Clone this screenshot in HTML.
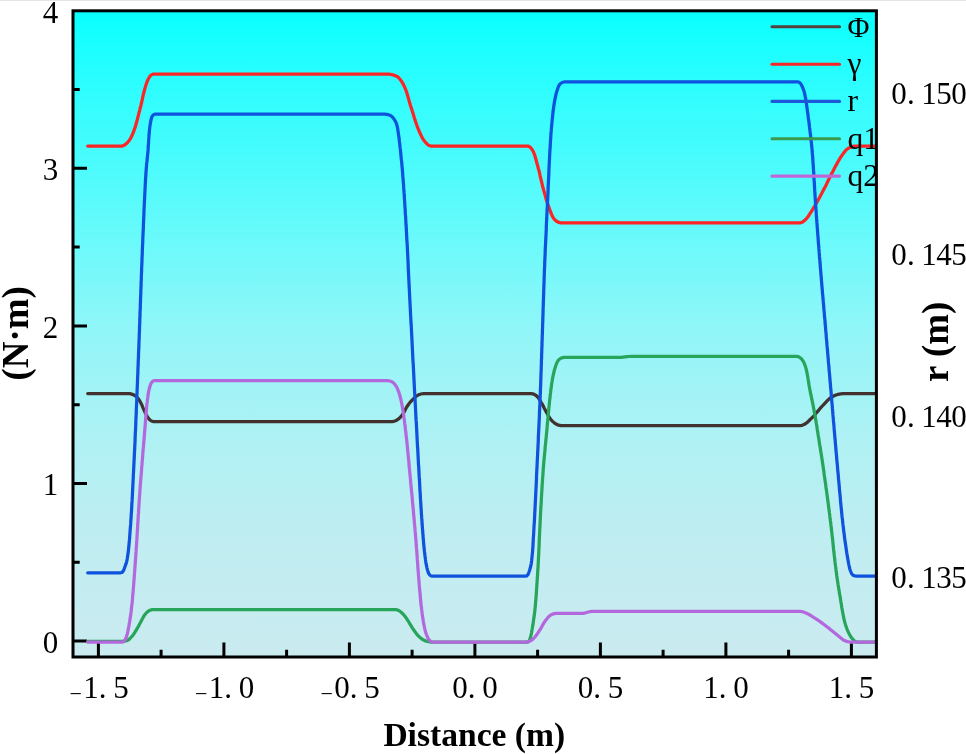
<!DOCTYPE html>
<html lang="en"><head><meta charset="utf-8"><title>Chart</title>
<style>
html,body{margin:0;padding:0;background:#fff;}
body{width:966px;height:754px;overflow:hidden;}
svg{display:block;}
.tk{font-family:"Liberation Serif","Noto Serif CJK SC",serif;font-size:31px;fill:#000;}
.lg{font-family:"Liberation Serif",serif;font-size:31.5px;fill:#000;}
.ti{font-family:"Liberation Serif",serif;font-weight:bold;font-size:33.6px;fill:#000;}
.tv{font-family:"Liberation Serif",serif;font-weight:bold;font-size:36.9px;fill:#000;}
</style></head><body>
<svg width="966" height="754" viewBox="0 0 966 754">
<defs><linearGradient id="bg" x1="0" y1="0" x2="0" y2="1"><stop offset="0.0000" stop-color="#08ffff"/><stop offset="0.0761" stop-color="#21feff"/><stop offset="0.1318" stop-color="#31fdfe"/><stop offset="0.1845" stop-color="#3efcfd"/><stop offset="0.2618" stop-color="#52fbfc"/><stop offset="0.3392" stop-color="#66fafb"/><stop offset="0.4940" stop-color="#91f6f8"/><stop offset="0.6642" stop-color="#aff1f4"/><stop offset="0.8189" stop-color="#c0edf1"/><stop offset="1.0000" stop-color="#caebf0"/></linearGradient><clipPath id="cp"><rect x="73.0" y="10.8" width="803.4" height="646.2"/></clipPath></defs>
<rect x="0" y="0" width="966" height="754" fill="#fff"/>
<rect x="0" y="0" width="966" height="1" fill="#e4e4e4"/>
<rect x="73.0" y="10.8" width="803.4" height="646.2" fill="url(#bg)"/>
<path d="M73.0 641.0H87.0M73.0 483.4H87.0M73.0 325.9H87.0M73.0 168.3H87.0M73.0 562.2H79.7M73.0 404.7H79.7M73.0 247.1H79.7M73.0 89.6H79.7M98.4 657.0V642.5M223.9 657.0V642.5M349.4 657.0V642.5M474.9 657.0V642.5M600.4 657.0V642.5M725.9 657.0V642.5M851.4 657.0V642.5M161.1 657.0V649.7M286.6 657.0V649.7M412.1 657.0V649.7M537.6 657.0V649.7M663.1 657.0V649.7M788.6 657.0V649.7" stroke="#000" stroke-width="3" fill="none"/>
<g clip-path="url(#cp)" fill="none" stroke-width="3.25" stroke-linecap="round" stroke-linejoin="round">
<path d="M87.7 393.6L89.8 393.6L91.8 393.6L93.9 393.6L96.0 393.6L98.0 393.6L100.1 393.6L102.2 393.6L104.3 393.6L106.3 393.6L108.4 393.6L110.5 393.6L112.5 393.6L114.6 393.6L116.7 393.6L118.7 393.6L120.8 393.6L122.9 393.6L124.9 393.6L127.0 393.6L128.4 393.6L129.8 393.7L132.4 394.3L134.8 395.5L136.7 397.0L138.4 398.9L139.8 401.0L140.9 403.0L141.9 405.1L142.8 407.4L143.8 409.6L144.8 411.7L145.9 413.9L147.0 416.1L148.3 418.2L149.8 419.8L151.5 421.0L153.5 421.6L154.7 421.6L156.0 421.6L273.0 421.6L390.0 421.6L391.2 421.6L392.4 421.6L395.0 421.0L397.4 419.8L399.2 418.4L400.9 416.7L402.4 414.8L403.5 413.1L404.5 411.4L405.4 409.5L406.3 407.7L407.4 406.0L408.8 404.0L410.3 402.1L411.9 400.3L413.6 398.6L415.2 397.1L416.8 395.8L418.6 394.8L421.0 394.0L423.6 393.6L424.8 393.6L426.0 393.6L428.0 393.6L430.0 393.6L432.1 393.6L434.1 393.6L436.1 393.6L438.1 393.6L440.1 393.6L442.2 393.6L444.2 393.6L446.2 393.6L448.2 393.6L450.2 393.6L452.3 393.6L454.3 393.6L456.3 393.6L458.3 393.6L460.3 393.6L462.4 393.6L464.4 393.6L466.4 393.6L468.4 393.6L470.4 393.6L472.5 393.6L474.5 393.6L476.5 393.6L478.5 393.6L480.5 393.6L482.5 393.6L484.6 393.6L486.6 393.6L488.6 393.6L490.6 393.6L492.6 393.6L494.7 393.6L496.7 393.6L498.7 393.6L500.7 393.6L502.7 393.6L504.8 393.6L506.8 393.6L508.8 393.6L510.8 393.6L512.8 393.6L514.9 393.6L516.9 393.6L518.9 393.6L520.9 393.6L522.9 393.6L525.0 393.6L527.0 393.6L529.0 393.6L530.1 393.6L531.2 393.6L533.8 394.2L536.1 395.5L537.5 396.8L538.8 398.5L540.0 400.4L541.1 402.3L542.2 404.1L543.2 406.0L544.1 407.9L545.1 409.8L546.1 411.7L547.3 413.8L548.4 415.9L549.7 417.9L551.1 419.8L552.6 421.4L554.3 422.9L556.1 424.1L558.5 425.2L561.0 425.7L562.5 425.7L564.0 425.7L680.5 425.7L797.0 425.7L798.5 425.7L800.0 425.7L802.1 425.3L804.0 424.5L805.8 423.5L807.6 422.1L809.2 420.5L810.8 418.9L812.4 417.3L813.9 415.8L815.3 414.2L816.7 412.5L818.1 410.9L819.4 409.2L820.8 407.6L822.3 406.0L823.9 404.3L825.5 402.6L827.1 400.9L828.7 399.3L830.5 397.9L832.3 396.7L834.1 395.8L836.0 395.0L838.0 394.4L840.7 393.9L843.5 393.6L844.7 393.6L846.0 393.6L848.1 393.6L850.1 393.6L852.2 393.6L854.3 393.6L856.4 393.6L858.4 393.6L860.5 393.6L862.6 393.6L864.6 393.6L866.7 393.6L868.8 393.6L870.9 393.6L872.9 393.6L875.0 393.6" stroke="#41312f"/>
<path d="M87.7 146.0L89.7 146.0L91.7 146.0L93.8 146.0L95.8 146.0L97.8 146.0L99.8 146.0L101.8 146.0L103.8 146.0L105.9 146.0L107.9 146.0L109.9 146.0L111.9 146.0L113.9 146.0L116.0 146.0L118.0 146.0L120.0 146.0L121.2 146.0L122.4 146.0L124.6 145.1L126.5 143.5L127.9 142.1L129.2 140.4L130.4 138.6L131.4 136.7L132.3 134.8L133.1 133.0L133.8 131.2L134.4 129.3L135.1 127.4L135.7 125.5L136.2 123.5L136.8 121.6L137.3 119.6L137.8 117.6L138.3 115.7L138.8 113.7L139.3 111.7L139.8 109.8L140.3 107.7L140.9 105.6L141.3 103.6L141.8 101.5L142.3 99.4L142.7 97.3L143.2 95.2L143.7 93.1L144.2 91.0L144.8 89.0L145.4 86.9L146.0 84.9L146.7 82.8L147.5 80.7L148.4 78.8L149.5 77.0L151.0 75.1L152.9 74.1L153.9 74.1L155.0 74.1L271.6 74.1L388.0 74.1L389.0 74.2L390.0 74.3L392.3 74.7L394.6 75.4L396.6 76.2L398.3 77.4L399.8 79.0L401.3 80.9L402.5 82.9L403.6 84.9L404.5 86.8L405.3 88.7L406.1 90.7L406.8 92.7L407.4 94.8L408.0 96.9L408.6 99.0L409.2 101.1L409.8 103.2L410.4 105.3L411.1 107.4L411.8 109.4L412.4 111.5L413.1 113.6L413.7 115.6L414.3 117.7L415.0 119.7L415.6 121.8L416.3 123.8L417.0 125.8L417.8 127.8L418.6 129.8L419.4 131.8L420.3 133.7L421.2 135.7L422.1 137.6L423.2 139.4L424.4 141.0L425.7 142.6L427.3 144.2L429.0 145.5L430.8 146.0L431.9 146.0L433.0 146.0L435.0 146.0L437.0 146.0L439.1 146.0L441.1 146.0L443.1 146.0L445.1 146.0L447.2 146.0L449.2 146.0L451.2 146.0L453.2 146.0L455.2 146.0L457.3 146.0L459.3 146.0L461.3 146.0L463.3 146.0L465.3 146.0L467.4 146.0L469.4 146.0L471.4 146.0L473.4 146.0L475.5 146.0L477.5 146.0L479.5 146.0L481.5 146.0L483.5 146.0L485.6 146.0L487.6 146.0L489.6 146.0L491.6 146.0L493.7 146.0L495.7 146.0L497.7 146.0L499.7 146.0L501.7 146.0L503.8 146.0L505.8 146.0L507.8 146.0L509.8 146.0L511.8 146.0L513.9 146.0L515.9 146.0L517.9 146.0L519.9 146.0L522.0 146.0L524.0 146.0L526.0 146.0L527.0 146.0L528.0 146.0L530.5 147.4L532.4 150.0L533.4 151.8L534.2 153.8L535.0 156.0L535.6 158.2L536.2 160.5L536.8 162.7L537.4 164.9L538.0 167.0L538.5 169.0L539.1 171.1L539.6 173.2L540.0 175.3L540.5 177.4L541.0 179.5L541.5 181.6L542.0 183.7L542.5 185.8L543.0 187.8L543.6 189.9L544.2 191.9L544.7 193.9L545.3 195.9L545.9 198.0L546.4 200.0L547.1 202.0L547.7 203.9L548.4 205.9L549.1 207.9L549.8 209.8L550.6 211.9L551.5 214.2L552.4 216.3L553.5 218.3L554.8 219.8L556.5 221.2L558.7 222.4L561.0 222.9L562.0 222.9L563.0 222.9L680.5 222.9L798.0 222.9L799.0 222.9L800.0 222.9L802.7 221.9L805.0 220.0L806.4 218.6L807.8 217.0L809.0 215.3L810.1 213.4L811.3 211.6L812.4 209.8L813.5 208.0L814.6 206.3L815.6 204.5L816.7 202.7L817.7 200.8L818.7 199.0L819.7 197.2L820.7 195.3L821.7 193.5L822.6 191.6L823.6 189.8L824.5 188.0L825.5 186.2L826.4 184.4L827.2 182.6L828.1 180.7L829.0 178.9L829.9 177.1L830.8 175.3L831.7 173.5L832.7 171.7L833.6 169.9L834.6 168.0L835.6 166.1L836.7 164.1L837.7 162.2L838.8 160.3L839.9 158.5L841.1 156.7L842.3 154.9L843.6 153.1L844.9 151.4L846.4 149.7L848.0 148.5L850.1 147.4L852.3 146.4L854.7 146.0L855.8 146.0L857.0 146.0L859.0 146.0L861.0 146.0L863.0 146.0L865.0 146.0L867.0 146.0L869.0 146.0L871.0 146.0L873.0 146.0L875.0 146.0" stroke="#fc2525"/>
<path d="M87.7 572.8L89.9 572.8L92.0 572.8L94.2 572.8L96.3 572.8L98.4 572.8L100.5 572.8L102.5 572.8L104.6 572.8L106.6 572.8L108.6 572.8L110.6 572.8L112.6 572.8L114.6 572.8L116.6 572.8L118.5 572.8L120.5 572.8L121.6 572.5L122.5 572.0L123.7 570.2L124.5 568.0L125.3 565.8L126.1 563.6L126.7 561.3L127.2 559.0L127.5 557.0L127.8 554.9L128.1 552.9L128.4 550.8L128.6 548.7L128.8 546.7L129.0 544.6L129.2 542.5L129.4 540.4L129.6 538.3L129.7 536.2L129.9 534.1L130.0 532.1L130.2 530.0L130.3 527.9L130.5 525.8L130.7 523.7L130.8 521.7L130.9 519.6L131.1 517.5L131.2 515.4L131.3 513.4L131.5 511.3L131.6 509.2L131.7 507.1L131.8 505.1L131.9 503.0L132.1 500.9L132.2 498.8L132.3 496.8L132.4 494.7L132.5 492.6L132.6 490.6L132.7 488.6L132.8 486.5L132.9 484.5L133.0 482.5L133.1 480.5L133.2 478.5L133.3 476.4L133.4 474.4L133.5 472.4L133.6 470.4L133.7 468.4L133.8 466.4L133.9 464.3L134.0 462.3L134.1 460.3L134.2 458.3L134.3 456.3L134.4 454.2L134.5 452.2L134.6 450.2L134.7 448.2L134.8 446.2L134.9 444.1L135.0 442.1L135.1 440.1L135.1 438.1L135.2 436.1L135.3 434.0L135.4 432.0L135.5 430.0L135.6 428.0L135.7 426.0L135.8 424.0L135.8 422.0L135.9 420.0L136.0 418.0L136.1 416.0L136.2 414.0L136.3 412.0L136.3 410.0L136.4 408.0L136.5 406.0L136.6 404.0L136.7 402.0L136.8 400.0L136.8 398.0L136.9 396.0L137.0 394.0L137.1 392.0L137.1 390.0L137.2 388.0L137.3 386.0L137.4 384.0L137.5 382.0L137.5 380.0L137.6 378.0L137.7 376.0L137.8 374.0L137.9 372.0L137.9 370.0L138.0 368.0L138.1 366.0L138.2 364.0L138.2 362.0L138.3 360.0L138.4 358.0L138.5 356.0L138.5 354.0L138.6 352.0L138.7 350.0L138.8 348.0L138.9 346.0L138.9 343.9L139.0 341.9L139.1 339.9L139.2 337.9L139.2 335.8L139.3 333.8L139.4 331.8L139.5 329.8L139.5 327.7L139.6 325.7L139.7 323.7L139.8 321.7L139.8 319.6L139.9 317.6L140.0 315.6L140.0 313.6L140.1 311.5L140.2 309.5L140.3 307.5L140.3 305.5L140.4 303.4L140.5 301.4L140.5 299.4L140.6 297.4L140.7 295.3L140.8 293.3L140.8 291.3L140.9 289.3L141.0 287.2L141.1 285.2L141.1 283.2L141.2 281.2L141.3 279.2L141.3 277.1L141.4 275.1L141.5 273.1L141.6 271.1L141.6 269.0L141.7 267.0L141.8 265.0L141.9 263.0L142.0 260.9L142.0 258.9L142.1 256.9L142.2 254.9L142.3 252.8L142.3 250.8L142.4 248.8L142.5 246.8L142.6 244.7L142.7 242.7L142.8 240.7L142.8 238.7L142.9 236.6L143.0 234.6L143.1 232.6L143.2 230.6L143.3 228.6L143.4 226.5L143.4 224.5L143.5 222.5L143.6 220.5L143.7 218.5L143.8 216.4L143.9 214.4L143.9 212.4L144.0 210.4L144.1 208.4L144.2 206.3L144.3 204.3L144.4 202.3L144.5 200.3L144.6 198.3L144.7 196.2L144.8 194.2L144.9 192.2L145.0 190.2L145.1 188.2L145.2 186.1L145.3 184.1L145.4 182.1L145.5 180.1L145.6 178.1L145.8 176.1L145.9 174.0L146.0 172.0L146.2 170.0L146.3 168.0L146.5 166.0L146.6 164.0L146.9 162.0L147.1 160.0L147.3 158.0L147.5 156.0L147.7 154.0L147.9 152.0L148.1 149.9L148.2 147.8L148.3 145.7L148.5 143.6L148.6 141.4L148.7 139.3L148.9 137.2L149.0 135.1L149.2 133.0L149.4 130.8L149.6 128.6L149.9 126.4L150.2 124.3L150.6 122.1L151.0 120.0L151.6 117.6L152.6 115.6L153.6 114.7L154.8 114.2L155.9 114.2L157.0 114.2L270.5 114.2L384.0 114.2L385.1 114.2L386.2 114.3L388.4 114.7L390.5 115.5L392.4 117.0L394.0 119.0L395.1 120.8L396.1 122.8L396.8 124.8L397.3 126.8L397.7 128.8L398.0 130.9L398.3 132.9L398.6 135.0L398.9 137.1L399.2 139.2L399.4 141.4L399.7 143.5L399.9 145.6L400.1 147.7L400.4 149.9L400.6 152.0L400.8 154.0L401.0 156.0L401.2 158.0L401.4 160.0L401.7 162.0L401.8 164.0L402.0 166.0L402.2 168.0L402.4 170.0L402.5 172.0L402.7 174.0L402.8 176.1L403.0 178.1L403.2 180.1L403.3 182.1L403.5 184.1L403.6 186.2L403.7 188.2L403.9 190.2L404.0 192.2L404.2 194.2L404.3 196.2L404.4 198.3L404.6 200.3L404.7 202.3L404.8 204.3L404.9 206.3L405.1 208.4L405.2 210.4L405.3 212.4L405.4 214.4L405.6 216.4L405.7 218.5L405.8 220.5L405.9 222.5L406.0 224.5L406.2 226.5L406.3 228.6L406.4 230.6L406.5 232.6L406.6 234.6L406.7 236.6L406.8 238.6L406.9 240.6L407.1 242.7L407.2 244.7L407.3 246.7L407.4 248.7L407.5 250.7L407.6 252.7L407.7 254.7L407.8 256.7L407.9 258.8L408.0 260.8L408.1 262.8L408.2 264.8L408.2 266.8L408.3 268.8L408.4 270.8L408.5 272.8L408.6 274.9L408.7 276.9L408.8 278.9L408.9 280.9L409.0 282.9L409.1 284.9L409.2 286.9L409.3 288.9L409.4 291.0L409.5 293.0L409.6 295.0L409.7 297.0L409.8 299.0L409.9 301.0L410.0 303.0L410.1 305.0L410.2 307.0L410.3 309.0L410.4 311.0L410.5 313.0L410.6 315.0L410.7 317.0L410.8 319.0L410.9 321.0L411.0 323.0L411.2 325.0L411.3 327.0L411.4 329.0L411.5 331.0L411.6 333.0L411.7 335.0L411.8 337.0L411.9 339.0L412.0 341.0L412.1 343.0L412.2 345.0L412.3 347.0L412.4 349.1L412.5 351.1L412.6 353.2L412.7 355.2L412.8 357.3L412.9 359.3L413.0 361.3L413.2 363.4L413.3 365.4L413.4 367.5L413.5 369.5L413.6 371.6L413.7 373.6L413.8 375.7L413.9 377.7L414.0 379.7L414.1 381.8L414.2 383.8L414.3 385.9L414.4 387.9L414.5 390.0L414.6 392.0L414.8 394.0L414.9 396.1L415.0 398.1L415.1 400.2L415.2 402.2L415.3 404.3L415.4 406.3L415.5 408.3L415.6 410.3L415.7 412.3L415.8 414.3L415.9 416.3L416.0 418.4L416.1 420.4L416.3 422.4L416.4 424.4L416.5 426.4L416.6 428.4L416.7 430.4L416.8 432.4L416.9 434.4L417.0 436.4L417.1 438.4L417.2 440.5L417.3 442.5L417.4 444.5L417.5 446.5L417.7 448.5L417.8 450.5L417.9 452.5L418.0 454.5L418.1 456.5L418.2 458.5L418.3 460.5L418.4 462.6L418.5 464.6L418.7 466.6L418.8 468.6L418.9 470.6L419.0 472.6L419.1 474.7L419.2 476.7L419.4 478.8L419.5 480.8L419.6 482.9L419.7 485.0L419.8 487.0L419.9 489.1L420.0 491.1L420.2 493.2L420.3 495.2L420.4 497.3L420.5 499.4L420.7 501.4L420.8 503.5L420.9 505.5L421.0 507.6L421.2 509.7L421.3 511.7L421.4 513.8L421.6 515.8L421.7 517.9L421.9 519.9L422.0 522.0L422.1 524.0L422.3 526.0L422.4 528.0L422.6 530.0L422.7 532.0L422.9 534.0L423.0 536.0L423.2 538.0L423.4 540.0L423.5 542.0L423.7 544.0L423.9 546.0L424.1 548.0L424.3 550.0L424.5 552.0L424.8 554.0L425.0 556.0L425.3 558.0L425.5 560.0L425.8 562.1L426.2 564.1L426.6 566.1L427.0 568.1L427.5 570.0L428.3 572.6L429.5 574.8L430.7 575.7L432.3 576.2L433.4 576.2L434.5 576.2L436.5 576.2L438.5 576.2L440.5 576.2L442.5 576.2L444.5 576.2L446.5 576.2L448.5 576.2L450.5 576.2L452.5 576.2L454.5 576.2L456.5 576.2L458.5 576.2L460.5 576.2L462.5 576.2L464.5 576.2L466.5 576.2L468.5 576.2L470.5 576.2L472.5 576.2L474.5 576.2L476.5 576.2L478.5 576.2L480.5 576.2L482.5 576.2L484.5 576.2L486.5 576.2L488.5 576.2L490.5 576.2L492.5 576.2L494.5 576.2L496.5 576.2L498.5 576.2L500.5 576.2L502.5 576.2L504.5 576.2L506.5 576.2L508.5 576.2L510.5 576.2L512.5 576.2L514.5 576.2L516.5 576.2L518.5 576.2L520.5 576.2L522.5 576.2L524.5 576.2L525.7 576.1L526.7 576.0L528.1 574.4L529.0 572.0L529.7 569.9L530.3 567.7L530.9 565.5L531.3 563.2L531.6 561.0L531.8 559.0L532.0 557.0L532.2 555.1L532.4 553.1L532.6 551.1L532.7 549.1L532.9 547.1L533.0 545.1L533.1 543.1L533.2 541.0L533.3 539.0L533.4 537.0L533.6 535.0L533.7 533.0L533.8 531.0L533.9 529.0L534.0 527.0L534.1 525.0L534.3 523.0L534.4 521.0L534.5 518.9L534.6 516.9L534.7 514.9L534.8 512.9L534.9 510.9L535.0 508.9L535.1 506.9L535.2 504.9L535.3 502.9L535.4 500.8L535.5 498.8L535.6 496.8L535.7 494.8L535.8 492.8L535.9 490.8L536.0 488.8L536.1 486.8L536.2 484.7L536.3 482.7L536.4 480.7L536.5 478.7L536.5 476.7L536.6 474.7L536.7 472.7L536.8 470.6L536.9 468.6L537.0 466.6L537.1 464.6L537.2 462.6L537.3 460.6L537.4 458.6L537.5 456.5L537.6 454.5L537.7 452.5L537.8 450.5L537.9 448.5L538.0 446.5L538.1 444.4L538.2 442.4L538.3 440.4L538.3 438.4L538.4 436.4L538.5 434.3L538.6 432.3L538.7 430.3L538.8 428.3L538.9 426.3L539.0 424.3L539.1 422.2L539.2 420.2L539.3 418.2L539.4 416.2L539.4 414.2L539.5 412.1L539.6 410.1L539.7 408.1L539.8 406.1L539.9 404.1L540.0 402.1L540.0 400.0L540.1 398.0L540.2 396.0L540.3 394.0L540.4 391.9L540.4 389.9L540.5 387.9L540.6 385.8L540.7 383.8L540.7 381.8L540.8 379.7L540.9 377.7L540.9 375.7L541.0 373.6L541.1 371.6L541.2 369.6L541.2 367.5L541.3 365.5L541.4 363.5L541.4 361.4L541.5 359.4L541.6 357.4L541.6 355.3L541.7 353.3L541.8 351.3L541.8 349.2L541.9 347.2L542.0 345.2L542.0 343.1L542.1 341.1L542.2 339.1L542.2 337.0L542.3 335.0L542.4 333.0L542.4 331.0L542.5 329.0L542.6 327.0L542.6 325.0L542.7 323.0L542.8 321.0L542.8 319.0L542.9 317.0L543.0 315.0L543.0 313.0L543.1 311.0L543.1 309.0L543.2 307.0L543.3 305.0L543.3 303.0L543.4 301.0L543.5 299.0L543.5 297.0L543.6 295.0L543.7 293.0L543.7 291.0L543.8 289.0L543.9 287.0L543.9 285.0L544.0 283.0L544.1 281.0L544.1 279.0L544.2 277.0L544.3 275.0L544.3 273.0L544.4 271.0L544.5 269.0L544.6 267.0L544.7 265.0L544.7 263.0L544.8 260.9L544.9 258.9L545.0 256.9L545.1 254.9L545.2 252.9L545.2 250.9L545.3 248.9L545.4 246.9L545.5 244.9L545.6 242.8L545.7 240.8L545.8 238.8L545.9 236.8L546.0 234.8L546.1 232.8L546.2 230.8L546.3 228.8L546.3 226.7L546.4 224.7L546.5 222.7L546.6 220.7L546.7 218.7L546.8 216.7L546.9 214.7L547.0 212.7L547.1 210.6L547.2 208.6L547.3 206.6L547.4 204.6L547.5 202.6L547.6 200.6L547.7 198.6L547.8 196.6L547.9 194.6L548.0 192.6L548.1 190.5L548.1 188.5L548.2 186.5L548.3 184.5L548.4 182.5L548.5 180.5L548.6 178.5L548.7 176.5L548.8 174.5L548.9 172.5L548.9 170.4L549.0 168.4L549.1 166.4L549.2 164.4L549.3 162.4L549.4 160.4L549.5 158.4L549.6 156.4L549.7 154.4L549.8 152.4L549.9 150.4L550.1 148.3L550.2 146.3L550.3 144.3L550.4 142.3L550.5 140.3L550.7 138.3L550.8 136.3L550.9 134.3L551.1 132.2L551.3 130.2L551.4 128.1L551.6 126.1L551.8 124.1L552.0 122.0L552.2 120.0L552.4 117.9L552.6 115.9L552.8 113.8L553.1 111.8L553.3 109.7L553.6 107.7L553.9 105.6L554.2 103.6L554.5 101.6L554.9 99.6L555.3 97.7L555.7 95.7L556.2 93.7L556.7 91.8L557.3 89.9L558.0 87.7L558.9 85.6L560.0 84.0L562.1 82.5L564.8 81.8L565.9 81.8L567.0 81.8L681.8 81.8L796.5 81.8L797.7 81.9L798.7 82.0L800.6 83.5L802.0 86.0L802.9 88.1L803.7 90.3L804.4 92.6L804.9 94.9L805.3 96.9L805.7 98.9L806.0 100.9L806.3 103.0L806.6 105.0L806.9 107.1L807.2 109.2L807.5 111.3L807.8 113.5L808.1 115.6L808.3 117.7L808.6 119.8L808.9 121.8L809.1 123.8L809.4 125.9L809.6 127.9L809.9 129.9L810.1 131.9L810.4 134.0L810.6 136.0L810.8 138.0L811.0 140.0L811.3 142.0L811.5 144.0L811.7 146.0L811.9 148.0L812.1 150.0L812.2 152.0L812.4 154.0L812.6 156.0L812.7 158.0L812.9 160.1L813.0 162.1L813.1 164.1L813.3 166.1L813.4 168.2L813.5 170.2L813.7 172.2L813.8 174.2L813.9 176.3L814.0 178.3L814.1 180.3L814.3 182.3L814.4 184.4L814.5 186.4L814.6 188.4L814.7 190.4L814.9 192.5L815.0 194.5L815.1 196.5L815.2 198.6L815.4 200.6L815.5 202.6L815.6 204.6L815.8 206.6L815.9 208.6L816.1 210.7L816.2 212.7L816.3 214.7L816.5 216.7L816.6 218.7L816.8 220.7L816.9 222.7L817.1 224.7L817.2 226.8L817.4 228.8L817.5 230.8L817.7 232.8L817.8 234.8L818.0 236.8L818.1 238.8L818.3 240.8L818.4 242.8L818.6 244.9L818.8 246.9L818.9 248.9L819.1 250.9L819.2 252.9L819.4 254.9L819.5 256.9L819.7 258.9L819.9 261.0L820.0 263.0L820.2 265.0L820.3 267.0L820.5 269.0L820.7 271.0L820.8 273.0L821.0 275.0L821.2 277.0L821.3 279.0L821.5 281.0L821.7 283.0L821.8 285.0L822.0 287.0L822.2 289.0L822.3 291.0L822.5 293.0L822.7 295.0L822.9 297.0L823.0 299.0L823.2 301.0L823.4 303.0L823.6 305.0L823.7 307.0L823.9 309.0L824.1 311.0L824.3 313.0L824.4 315.0L824.6 317.0L824.8 319.0L825.0 321.0L825.1 323.0L825.3 325.0L825.5 327.0L825.6 329.1L825.8 331.1L826.0 333.1L826.2 335.2L826.3 337.2L826.5 339.3L826.7 341.3L826.9 343.3L827.0 345.4L827.2 347.4L827.4 349.4L827.6 351.5L827.7 353.5L827.9 355.6L828.1 357.6L828.3 359.6L828.4 361.7L828.6 363.7L828.8 365.7L829.0 367.8L829.1 369.8L829.3 371.9L829.5 373.9L829.7 375.9L829.8 378.0L830.0 380.0L830.2 382.0L830.4 384.1L830.5 386.1L830.7 388.2L830.9 390.2L831.1 392.2L831.2 394.3L831.4 396.3L831.6 398.3L831.7 400.3L831.9 402.3L832.1 404.3L832.3 406.3L832.4 408.4L832.6 410.4L832.8 412.4L832.9 414.4L833.1 416.4L833.3 418.4L833.4 420.4L833.6 422.4L833.8 424.4L834.0 426.4L834.1 428.4L834.3 430.5L834.5 432.5L834.6 434.5L834.8 436.5L835.0 438.5L835.2 440.5L835.3 442.5L835.5 444.5L835.7 446.5L835.8 448.5L836.0 450.5L836.2 452.6L836.4 454.6L836.6 456.6L836.7 458.6L836.9 460.6L837.1 462.6L837.3 464.6L837.5 466.6L837.6 468.6L837.8 470.7L838.0 472.7L838.2 474.7L838.4 476.7L838.5 478.7L838.7 480.7L838.9 482.7L839.1 484.8L839.3 486.8L839.4 488.8L839.6 490.8L839.8 492.8L840.0 494.8L840.2 496.8L840.4 498.9L840.5 500.9L840.7 502.9L840.9 504.9L841.1 506.9L841.3 508.9L841.5 510.9L841.7 512.9L841.9 514.9L842.1 517.0L842.4 519.0L842.6 521.0L842.8 523.0L843.0 525.0L843.3 527.0L843.5 529.0L843.7 531.1L844.0 533.1L844.3 535.2L844.5 537.3L844.8 539.4L845.1 541.4L845.4 543.5L845.7 545.6L846.0 547.6L846.3 549.7L846.6 551.8L846.9 553.8L847.3 555.9L847.6 557.9L848.0 560.0L848.4 562.2L848.8 564.5L849.3 566.7L849.8 568.9L850.5 571.0L851.5 573.5L853.0 575.3L854.8 575.9L857.0 576.2L858.0 576.2L859.0 576.2L861.0 576.2L863.0 576.2L865.0 576.2L867.0 576.2L869.0 576.2L871.0 576.2L873.0 576.2L875.0 576.2" stroke="#0f52dd"/>
<path d="M87.7 641.3L89.8 641.3L91.9 641.3L93.9 641.3L96.0 641.3L98.1 641.3L100.2 641.3L102.3 641.3L104.4 641.3L106.4 641.3L108.5 641.3L110.6 641.3L112.7 641.3L114.8 641.3L116.8 641.3L118.9 641.3L121.0 641.3L122.3 641.3L123.5 641.2L124.8 641.1L126.0 641.0L127.8 640.3L129.4 639.1L130.9 637.5L132.3 636.0L133.7 634.2L135.0 632.2L136.2 630.2L137.4 628.1L138.6 626.0L139.6 624.1L140.6 622.2L141.6 620.3L142.6 618.4L143.6 616.5L144.8 614.8L146.5 612.7L148.5 611.0L150.3 610.1L152.3 609.6L153.6 609.6L155.0 609.6L274.5 609.6L394.0 609.6L395.1 609.6L396.2 609.6L398.8 610.5L401.2 612.3L402.9 613.9L404.5 615.8L406.0 617.8L407.4 619.8L408.7 621.8L409.9 623.8L411.1 625.8L412.3 627.8L413.6 629.8L415.0 631.8L416.5 633.8L418.1 635.6L419.8 637.3L422.2 639.2L424.8 640.6L427.3 641.5L430.0 642.0L431.0 642.0L432.0 642.0L434.0 642.0L436.0 642.0L438.0 642.0L440.0 642.0L442.0 642.0L444.0 642.0L446.0 642.0L448.0 642.0L450.0 642.0L452.0 642.0L454.0 642.0L456.0 642.0L458.0 642.0L460.0 642.0L462.0 642.0L464.0 642.0L466.0 642.0L468.0 642.0L470.0 642.0L472.0 642.0L474.0 642.0L476.0 642.0L478.0 642.0L480.0 642.0L482.0 642.0L484.0 642.0L486.0 642.0L488.0 642.0L490.0 642.0L492.0 642.0L494.0 642.0L496.0 642.0L498.0 642.0L500.0 642.0L502.0 642.0L504.0 642.0L506.0 642.0L508.0 642.0L510.0 642.0L512.0 642.0L514.0 642.0L516.0 642.0L518.0 642.0L520.0 642.0L522.0 642.0L524.0 642.0L526.0 642.0L527.1 642.0L528.0 642.0L529.5 640.2L530.5 637.0L531.0 635.1L531.5 633.1L531.8 631.1L532.2 629.0L532.5 627.0L532.9 624.9L533.2 622.8L533.5 620.6L533.8 618.5L534.1 616.4L534.4 614.3L534.7 612.1L534.9 610.0L535.1 608.0L535.3 606.0L535.5 604.0L535.6 602.0L535.8 600.0L536.0 598.0L536.1 596.0L536.3 594.0L536.4 592.0L536.5 590.0L536.7 588.0L536.8 586.0L536.9 584.0L537.1 582.0L537.2 580.0L537.3 578.0L537.5 576.0L537.6 574.0L537.7 572.0L537.8 570.0L538.0 568.0L538.1 566.0L538.2 564.0L538.3 562.0L538.4 560.0L538.5 557.9L538.6 555.9L538.7 553.8L538.8 551.7L538.9 549.7L539.0 547.6L539.1 545.5L539.2 543.5L539.2 541.4L539.3 539.3L539.4 537.3L539.5 535.2L539.6 533.1L539.7 531.1L539.8 529.0L539.9 527.0L540.0 524.9L540.1 522.9L540.2 520.9L540.3 518.8L540.4 516.8L540.5 514.8L540.6 512.7L540.7 510.7L540.8 508.6L540.9 506.6L541.1 504.6L541.2 502.5L541.3 500.5L541.4 498.5L541.5 496.4L541.6 494.4L541.7 492.4L541.9 490.3L542.0 488.3L542.1 486.3L542.2 484.2L542.4 482.2L542.5 480.2L542.6 478.1L542.8 476.1L542.9 474.1L543.1 472.0L543.2 470.0L543.3 468.0L543.5 466.0L543.7 464.0L543.8 462.0L544.0 460.0L544.2 458.0L544.4 456.0L544.6 454.0L544.8 452.0L545.0 450.0L545.1 448.0L545.3 446.0L545.5 444.0L545.7 442.0L545.9 440.0L546.1 438.0L546.3 436.0L546.5 434.0L546.7 431.9L546.9 429.8L547.1 427.7L547.2 425.7L547.4 423.6L547.6 421.5L547.8 419.4L548.0 417.3L548.2 415.2L548.4 413.1L548.6 411.1L548.8 409.0L549.0 406.9L549.2 404.8L549.4 402.7L549.6 400.7L549.9 398.6L550.1 396.5L550.3 394.4L550.6 392.4L550.8 390.3L551.1 388.2L551.4 386.2L551.6 384.1L552.0 382.0L552.3 380.0L552.7 377.8L553.1 375.6L553.6 373.5L554.1 371.3L554.7 369.2L555.3 367.1L556.0 365.0L556.8 363.0L557.8 361.0L559.0 359.5L561.1 358.1L563.6 357.4L564.8 357.4L566.0 357.4L568.0 357.4L570.1 357.4L572.1 357.4L574.2 357.4L576.2 357.4L578.2 357.4L580.3 357.4L582.3 357.4L584.4 357.4L586.4 357.4L588.4 357.4L590.5 357.4L592.5 357.4L594.6 357.4L596.6 357.4L598.6 357.4L600.7 357.4L602.7 357.4L604.7 357.4L606.8 357.4L608.8 357.4L610.9 357.4L612.9 357.4L614.9 357.4L617.0 357.4L619.0 357.4L621.0 357.3L623.0 357.1L625.0 356.9L627.0 356.7L629.0 356.5L631.0 356.4L712.7 356.4L794.5 356.4L795.7 356.4L796.8 356.4L798.8 356.9L800.5 358.0L801.9 359.3L803.1 361.1L804.1 363.0L804.9 364.9L805.5 366.8L806.1 368.8L806.6 370.8L807.0 372.9L807.4 375.0L807.8 377.1L808.1 379.2L808.5 381.3L808.8 383.5L809.1 385.6L809.5 387.7L809.9 389.8L810.3 391.9L810.7 394.0L811.2 396.0L811.6 398.1L812.0 400.2L812.5 402.3L812.9 404.4L813.3 406.5L813.7 408.5L814.1 410.6L814.5 412.7L814.9 414.8L815.3 416.9L815.6 419.1L816.0 421.2L816.3 423.3L816.7 425.5L817.0 427.6L817.3 429.7L817.7 431.9L818.0 434.0L818.3 436.0L818.7 438.1L819.0 440.1L819.3 442.2L819.6 444.2L820.0 446.3L820.3 448.3L820.6 450.3L820.9 452.4L821.3 454.4L821.6 456.5L821.9 458.5L822.2 460.6L822.5 462.6L822.8 464.6L823.1 466.6L823.4 468.6L823.7 470.6L824.0 472.6L824.2 474.7L824.5 476.7L824.8 478.7L825.1 480.7L825.4 482.7L825.7 484.7L825.9 486.7L826.2 488.7L826.5 490.7L826.8 492.8L827.0 494.8L827.3 496.8L827.6 498.8L827.8 500.8L828.1 502.8L828.4 504.8L828.6 506.8L828.9 508.9L829.2 510.9L829.4 512.9L829.7 514.9L829.9 516.9L830.2 518.9L830.4 520.9L830.7 523.0L830.9 525.0L831.2 527.0L831.4 529.0L831.6 531.1L831.9 533.1L832.1 535.2L832.3 537.3L832.6 539.3L832.8 541.4L833.0 543.5L833.2 545.5L833.4 547.6L833.6 549.7L833.9 551.7L834.1 553.8L834.3 555.9L834.6 557.9L834.8 560.0L835.0 562.0L835.3 564.0L835.5 566.0L835.8 568.0L836.0 570.0L836.3 572.0L836.6 574.0L836.8 576.0L837.1 578.0L837.4 580.0L837.7 582.1L838.0 584.3L838.4 586.4L838.7 588.6L839.1 590.7L839.4 592.9L839.8 595.0L840.2 597.1L840.5 599.2L840.8 601.3L841.2 603.5L841.5 605.6L841.8 607.7L842.2 609.8L842.6 611.9L843.0 614.0L843.4 616.1L843.8 618.2L844.3 620.3L844.8 622.3L845.4 624.4L846.1 626.5L846.8 628.5L847.6 630.6L848.5 632.6L849.5 634.5L850.5 636.3L851.7 638.0L853.0 639.5L854.6 641.1L856.5 642.0L857.7 642.0L859.0 642.0L861.0 642.0L863.0 642.0L865.0 642.0L867.0 642.0L869.0 642.0L871.0 642.0L873.0 642.0L875.0 642.0" stroke="#27a55a"/>
<path d="M87.7 642.2L89.8 642.2L91.9 642.2L94.0 642.2L96.1 642.2L98.1 642.2L100.2 642.2L102.3 642.2L104.4 642.2L106.5 642.2L108.5 642.2L110.6 642.2L112.7 642.2L114.8 642.2L116.8 642.2L118.9 642.2L121.0 642.2L122.1 642.1L123.0 642.0L124.8 640.4L126.0 638.0L126.7 636.1L127.2 634.2L127.7 632.1L128.1 630.0L128.5 628.0L128.9 626.0L129.2 624.0L129.6 622.0L129.9 620.0L130.2 618.0L130.5 616.0L130.8 614.0L131.1 612.0L131.3 610.0L131.5 608.0L131.7 606.0L132.0 604.0L132.2 601.9L132.4 599.9L132.5 597.9L132.7 595.9L132.9 593.9L133.1 591.9L133.2 589.8L133.4 587.8L133.6 585.8L133.7 583.8L133.9 581.8L134.0 579.7L134.2 577.7L134.3 575.7L134.5 573.7L134.6 571.6L134.8 569.6L134.9 567.6L135.1 565.6L135.2 563.5L135.4 561.5L135.5 559.5L135.6 557.5L135.8 555.4L135.9 553.4L136.1 551.4L136.2 549.4L136.3 547.3L136.5 545.3L136.6 543.3L136.7 541.3L136.9 539.2L137.0 537.2L137.1 535.2L137.2 533.1L137.4 531.1L137.5 529.1L137.6 527.1L137.7 525.0L137.8 523.0L138.0 521.0L138.1 519.0L138.2 516.9L138.3 514.9L138.5 512.9L138.6 510.8L138.7 508.8L138.8 506.8L139.0 504.8L139.1 502.7L139.2 500.7L139.4 498.7L139.5 496.7L139.7 494.6L139.8 492.6L139.9 490.6L140.1 488.6L140.2 486.5L140.4 484.5L140.5 482.5L140.7 480.5L140.8 478.5L141.0 476.4L141.2 474.4L141.3 472.4L141.5 470.4L141.6 468.4L141.8 466.3L142.0 464.3L142.1 462.3L142.3 460.3L142.5 458.3L142.6 456.2L142.8 454.2L142.9 452.2L143.1 450.2L143.3 448.2L143.5 446.2L143.6 444.1L143.8 442.1L144.0 440.1L144.1 438.1L144.3 436.1L144.5 434.0L144.6 432.0L144.8 430.0L145.0 428.0L145.1 426.0L145.3 424.0L145.4 422.0L145.6 420.0L145.7 418.0L145.9 416.0L146.0 414.0L146.2 412.0L146.4 410.0L146.6 408.0L146.7 406.0L146.9 404.0L147.2 402.0L147.4 400.0L147.7 398.0L147.9 396.0L148.3 393.9L148.6 391.9L149.0 389.9L149.5 388.0L150.1 385.8L150.9 383.7L152.0 382.0L153.1 381.0L154.5 380.5L155.7 380.5L157.0 380.5L271.0 380.5L385.0 380.5L386.2 380.5L387.4 380.6L389.8 381.0L392.0 381.8L394.2 383.6L396.0 386.0L397.0 387.8L397.9 389.8L398.7 391.8L399.4 393.9L400.0 396.0L400.5 398.0L401.0 400.0L401.4 402.0L401.8 404.0L402.2 406.0L402.5 408.0L402.9 410.0L403.2 412.0L403.5 414.0L403.8 416.0L404.0 418.0L404.3 420.0L404.6 422.0L404.8 424.0L405.1 426.0L405.3 428.0L405.5 430.0L405.8 432.0L406.0 434.0L406.2 436.0L406.5 438.1L406.7 440.1L406.9 442.1L407.1 444.1L407.3 446.2L407.5 448.2L407.7 450.2L407.9 452.3L408.1 454.3L408.3 456.3L408.5 458.4L408.7 460.4L408.9 462.4L409.0 464.5L409.2 466.5L409.4 468.5L409.6 470.6L409.8 472.6L410.0 474.6L410.2 476.6L410.4 478.6L410.6 480.6L410.7 482.7L410.9 484.7L411.1 486.7L411.3 488.7L411.5 490.7L411.7 492.7L411.9 494.7L412.1 496.7L412.3 498.7L412.4 500.8L412.6 502.8L412.8 504.8L413.0 506.8L413.2 508.8L413.4 510.8L413.5 512.8L413.7 514.8L413.9 516.9L414.1 518.9L414.3 520.9L414.4 522.9L414.6 524.9L414.8 526.9L415.0 528.9L415.1 530.9L415.3 533.0L415.5 535.0L415.6 537.0L415.8 539.0L416.0 541.0L416.1 543.1L416.3 545.1L416.4 547.2L416.6 549.2L416.8 551.2L416.9 553.3L417.1 555.3L417.2 557.4L417.3 559.4L417.5 561.4L417.6 563.5L417.8 565.5L417.9 567.6L418.1 569.6L418.2 571.6L418.4 573.7L418.5 575.7L418.7 577.8L418.9 579.8L419.0 581.8L419.2 583.9L419.3 585.9L419.5 588.0L419.7 590.0L419.9 592.0L420.1 594.0L420.2 596.0L420.4 598.0L420.6 600.0L420.8 602.0L421.0 604.0L421.2 606.0L421.5 608.0L421.7 610.0L422.0 612.0L422.2 614.0L422.5 616.0L422.8 618.0L423.1 620.1L423.4 622.1L423.8 624.0L424.2 626.0L424.6 628.0L425.1 630.2L425.7 632.3L426.4 634.5L427.2 636.5L428.2 638.7L429.6 640.5L430.9 641.5L432.5 642.0L433.5 642.0L434.5 642.0L436.5 642.0L438.6 642.0L440.6 642.0L442.6 642.0L444.7 642.0L446.7 642.0L448.7 642.0L450.8 642.0L452.8 642.0L454.8 642.0L456.9 642.0L458.9 642.0L461.0 642.0L463.0 642.0L465.0 642.0L467.1 642.0L469.1 642.0L471.1 642.0L473.2 642.0L475.2 642.0L477.2 642.0L479.3 642.0L481.3 642.0L483.3 642.0L485.4 642.0L487.4 642.0L489.4 642.0L491.5 642.0L493.5 642.0L495.5 642.0L497.6 642.0L499.6 642.0L501.6 642.0L503.7 642.0L505.7 642.0L507.7 642.0L509.8 642.0L511.8 642.0L513.8 642.0L515.9 642.0L517.9 642.0L519.9 642.0L521.9 642.0L524.0 642.0L526.0 642.0L527.0 641.9L528.0 641.8L530.0 641.1L531.9 639.9L533.6 638.5L535.0 637.0L536.3 635.3L537.6 633.5L538.7 631.6L539.9 629.8L541.2 627.8L542.3 625.7L543.5 623.7L544.7 621.7L546.1 619.8L547.6 617.9L549.3 616.1L551.1 614.8L553.4 613.8L556.0 613.3L557.5 613.3L559.0 613.3L561.0 613.3L563.0 613.3L565.0 613.3L567.0 613.3L569.0 613.3L571.0 613.3L573.1 613.3L575.1 613.3L577.0 613.3L579.0 613.3L581.0 613.3L583.0 613.3L585.3 612.9L587.5 612.3L589.7 611.7L592.0 611.3L694.1 611.3L797.0 611.3L798.5 611.3L800.0 611.3L802.0 611.6L804.1 612.2L806.0 613.0L808.0 613.9L809.9 615.0L811.7 616.1L813.6 617.3L815.4 618.5L817.2 619.7L819.0 620.9L820.8 622.1L822.5 623.4L824.3 624.7L826.0 626.0L827.6 627.2L829.2 628.4L830.7 629.7L832.3 631.0L833.8 632.2L835.4 633.5L836.9 634.8L838.5 636.0L840.3 637.6L842.1 639.1L844.0 640.3L845.8 641.1L847.8 641.7L849.8 642.0L850.9 642.0L852.0 642.0L854.1 642.0L856.2 642.0L858.3 642.0L860.4 642.0L862.5 642.0L864.5 642.0L866.6 642.0L868.7 642.0L870.8 642.0L872.9 642.0L875.0 642.0" stroke="#b368dd"/>
<path d="M772 26.8H839.5" stroke="#54403c" stroke-width="3.1"/>
<path d="M772 64.3H839.5" stroke="#fc2525" stroke-width="3.1"/>
<path d="M772 101.4H839.5" stroke="#1d58d8" stroke-width="3.1"/>
<path d="M772 138.8H839.5" stroke="#3a9a50" stroke-width="3.1"/>
<path d="M772 176.1H839.5" stroke="#c066d8" stroke-width="3.1"/>
</g>
<g class="lg" clip-path="url(#cp)">
<text x="847.5" y="36.8" font-size="30">Φ</text>
<text x="847.5" y="74.3">γ</text>
<text x="847.5" y="111.4">r</text>
<text x="847.5" y="148.8">q1</text>
<text x="847.5" y="186.1">q2</text>
</g>
<rect x="73.0" y="10.8" width="803.4" height="646.2" fill="none" stroke="#000" stroke-width="3"/>
<text class="tk" text-anchor="middle"><tspan x="50.5" y="652.9">0</tspan></text>
<text class="tk" text-anchor="middle"><tspan x="50.5" y="495.3">1</tspan></text>
<text class="tk" text-anchor="middle"><tspan x="50.5" y="337.8">2</tspan></text>
<text class="tk" text-anchor="middle"><tspan x="50.5" y="180.2">3</tspan></text>
<text class="tk" text-anchor="middle"><tspan x="50.5" y="22.7">4</tspan></text>
<text class="tk" text-anchor="middle"><tspan x="75.7" y="700.6" font-size="22">−</tspan><tspan x="90.9 102.6 120.9" y="697.7">1.5</tspan></text>
<text class="tk" text-anchor="middle"><tspan x="201.2" y="700.6" font-size="22">−</tspan><tspan x="216.4 228.1 246.4" y="697.7">1.0</tspan></text>
<text class="tk" text-anchor="middle"><tspan x="326.7" y="700.6" font-size="22">−</tspan><tspan x="341.9 353.6 371.9" y="697.7">0.5</tspan></text>
<text class="tk" text-anchor="middle"><tspan x="459.9 471.6 489.9" y="697.7">0.0</tspan></text>
<text class="tk" text-anchor="middle"><tspan x="585.4 597.1 615.4" y="697.7">0.5</tspan></text>
<text class="tk" text-anchor="middle"><tspan x="710.9 722.6 740.9" y="697.7">1.0</tspan></text>
<text class="tk" text-anchor="middle"><tspan x="836.4 848.1 866.4" y="697.7">1.5</tspan></text>
<text class="tk" text-anchor="middle"><tspan x="899.1 910.8 929.1 944.1 959.1" y="103.5">0.150</tspan></text>
<text class="tk" text-anchor="middle"><tspan x="899.1 910.8 929.1 944.1 959.1" y="265.0">0.145</tspan></text>
<text class="tk" text-anchor="middle"><tspan x="899.1 910.8 929.1 944.1 959.1" y="426.5">0.140</tspan></text>
<text class="tk" text-anchor="middle"><tspan x="899.1 910.8 929.1 944.1 959.1" y="588.0">0.135</tspan></text>
<text class="ti" x="474.3" y="745.7" text-anchor="middle">Distance (m)</text>
<text class="tv" transform="translate(28.2 333.4) rotate(-90)" text-anchor="middle">(N·m)</text>
<text class="tv" transform="translate(947.7 341.9) rotate(-90)" text-anchor="middle">r (m)</text>
</svg>
</body></html>
